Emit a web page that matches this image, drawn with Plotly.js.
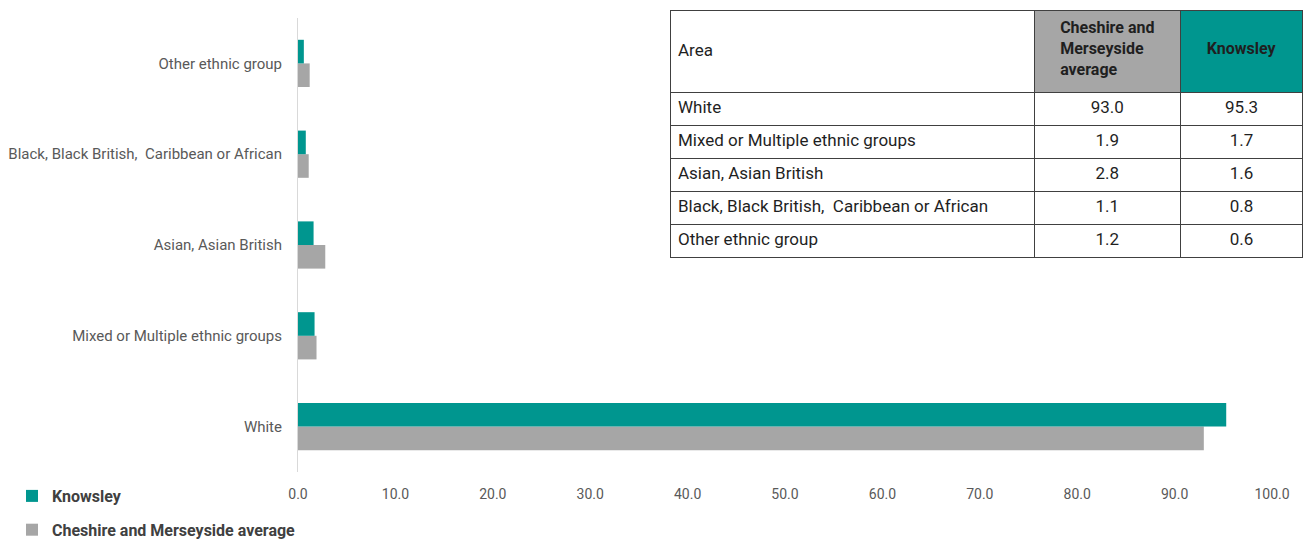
<!DOCTYPE html>
<html>
<head>
<meta charset="utf-8">
<script src="https://cdn.plot.ly/plotly-3.0.1.min.js"></script>
<style>
  html, body { margin: 0; padding: 0; background: #ffffff; }
  #chart { width: 1305px; height: 541px; }
</style>
</head>
<body>
<div id="chart"></div>
<script>
// Ethnic group shares (%), Knowsley vs Cheshire and Merseyside average
const groups = [
  "White",
  "Mixed or Multiple ethnic groups",
  "Asian, Asian British",
  "Black, Black British,  Caribbean or African",
  "Other ethnic group"
];
const cheshireMerseyside = [93.0, 1.9, 2.8, 1.1, 1.2];
const knowsley = [95.3, 1.7, 1.6, 0.8, 0.6];
const xTicks = [0, 10, 20, 30, 40, 50, 60, 70, 80, 90, 100];

const TEAL = "#00968F";
const GREY = "#A6A6A6";
const W = 1305, H = 541;
const FONT = "Roboto, Arial, sans-serif";

// table rows keep the double space of the axis label without letting the cell wrap on it
const tableGroups = groups.map(g => g.replace("  ", " \u00a0"));

const traces = [
  {
    type: "bar", orientation: "h",
    name: "<b>Cheshire and Merseyside average</b>",
    y: groups, x: cheshireMerseyside,
    marker: { color: GREY },
    legendgroup: "cm", legendrank: 2, hoverinfo: "x+y"
  },
  {
    type: "bar", orientation: "h",
    name: "<b>Knowsley</b>",
    y: groups, x: knowsley,
    marker: { color: TEAL },
    legendgroup: "kn", legendrank: 1, hoverinfo: "x+y"
  },
  {
    type: "table",
    domain: { x: [670 / W, 1304 / W], y: [1 - 262 / H, 1 - 10 / H] },
    columnwidth: [365, 146, 123],
    header: {
      values: ["\u00a0<br>Area", "<b>Cheshire and<br>Merseyside<br>average</b>", "\u00a0<br><b>Knowsley</b>"],
      align: ["left", "center", "center"],
      fill: { color: ["#ffffff", GREY, TEAL] },
      line: { color: "#404040", width: 1 },
      font: { family: FONT, size: [17, 16, 16], color: "#1f1f1f" },
      height: 82
    },
    cells: {
      values: [tableGroups, cheshireMerseyside, knowsley],
      format: ["", ".1f", ".1f"],
      align: ["left", "center", "center"],
      fill: { color: "#ffffff" },
      line: { color: "#404040", width: 1 },
      font: { family: FONT, size: 17, color: "#1f1f1f" },
      height: 33
    }
  }
];

const layout = {
  width: W, height: H,
  margin: { l: 0, r: 0, t: 0, b: 0, autoexpand: false },
  paper_bgcolor: "#ffffff",
  plot_bgcolor: "#ffffff",
  barmode: "group",
  bargap: 0.48,
  bargroupgap: 0,
  font: { family: FONT, color: "#595959" },
  xaxis: {
    domain: [298 / W, 1272 / W],
    range: [0, 100],
    tickvals: xTicks,
    ticktext: xTicks.map(v => v.toFixed(1)),
    showgrid: false, zeroline: false, showline: false,
    ticks: "outside", ticklen: 9, tickcolor: "rgba(0,0,0,0)",
    tickfont: { size: 14, color: "#595959" },
    automargin: false, fixedrange: true
  },
  yaxis: {
    domain: [1 - 472 / H, 1 - 18 / H],
    categoryorder: "array", categoryarray: groups,
    showgrid: false, zeroline: false,
    showline: true, linecolor: "#d9d9d9", linewidth: 1,
    ticks: "outside", ticklen: 12, tickcolor: "rgba(0,0,0,0)",
    tickfont: { size: 15, color: "#595959" },
    automargin: false, fixedrange: true
  },
  showlegend: true,
  legend: {
    xref: "container", yref: "container",
    x: 12 / W, y: 1 - 479 / H,
    xanchor: "left", yanchor: "top",
    orientation: "v",
    traceorder: "grouped",
    tracegroupgap: 10,
    itemwidth: 30,
    font: { family: FONT, size: 16, color: "#404040" },
    bgcolor: "rgba(0,0,0,0)"
  }
};

Plotly.newPlot("chart", traces, layout, { displayModeBar: false, staticPlot: true });
</script>
</body>
</html>
